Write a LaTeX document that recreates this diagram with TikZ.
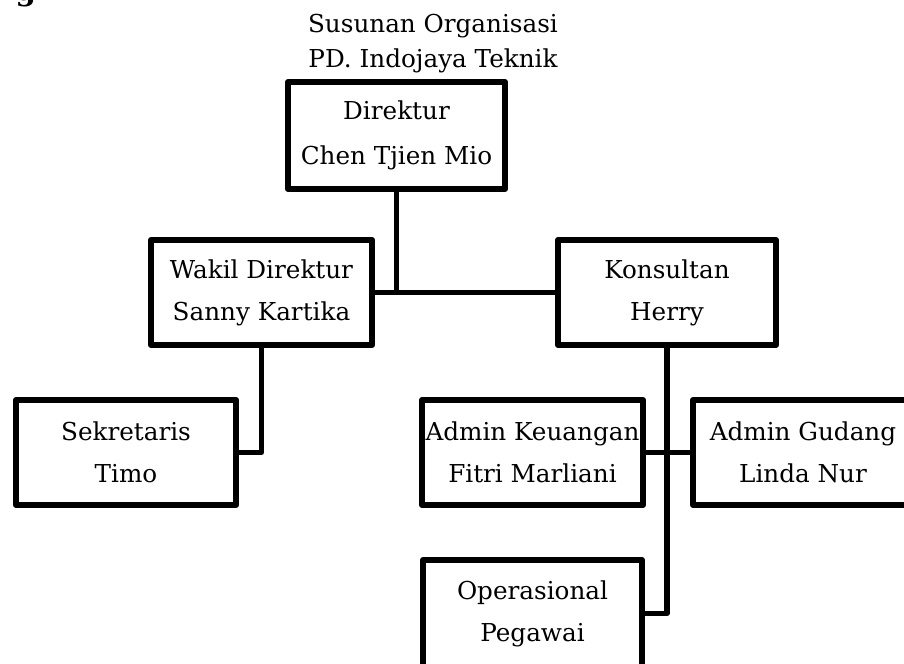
\documentclass[tikz,border=0pt]{standalone}
\usepackage{fontspec}
\setmainfont{DejaVu Serif}
\usetikzlibrary{calc}

\begin{document}
\begin{tikzpicture}[x=0.75pt, y=-0.75pt,
  kotak/.style={draw, line width=4.5pt, line join=round, align=center,
    minimum height=78.75pt, inner sep=0pt,
    font=\fontsize{18.5}{31.5}\selectfont},
  garis/.style={line width=3.8pt, line join=round}]

\useasboundingbox (0,0) rectangle (904,664);

% === Judul ===
\node[font=\bfseries\fontsize{22}{26}\selectfont, anchor=base] (potong) at (26,0) {g};
\node[font=\fontsize{18.5}{26.5}\selectfont, align=center, anchor=north] (judul) at (433,9)
  {Susunan Organisasi\\PD. Indojaya Teknik};

% === Kotak jabatan ===
\node[kotak, minimum width=162.75pt, minimum height=80.25pt,
  font=\fontsize{18.5}{33.75}\selectfont] (dir) at (396.5,135.5)
  {Direktur\\Chen Tjien Mio};
\node[kotak, minimum width=165.75pt] (wakil) at (261.5,292.5)
  {Wakil Direktur\\Sanny Kartika};
\node[kotak, minimum width=163.5pt] (kons) at (667,292.5)
  {Konsultan\\Herry};
\node[kotak, minimum width=165pt] (sekr) at (126,452.5)
  {Sekretaris\\Timo};
\node[kotak, minimum width=165.75pt] (keu) at (532.5,452.5)
  {Admin Keuangan\\Fitri Marliani};
\node[kotak, minimum width=165pt] (gud) at (803,452.5)
  {Admin Gudang\\Linda Nur};
\node[kotak, minimum width=164.25pt, minimum height=80.25pt] (ops) at (532.5,613.5)
  {Operasional\\Pegawai};

% === Garis penghubung ===
\draw[garis] (wakil.east) -- (kons.west);
\draw[garis] (dir.south) -- (dir.south |- wakil.east);
\draw[garis] (wakil.south) |- (sekr.east);
\draw[garis] (kons.south) |- (ops.east);
\draw[garis] (keu.east) -- (gud.west);

\end{tikzpicture}
\end{document}
